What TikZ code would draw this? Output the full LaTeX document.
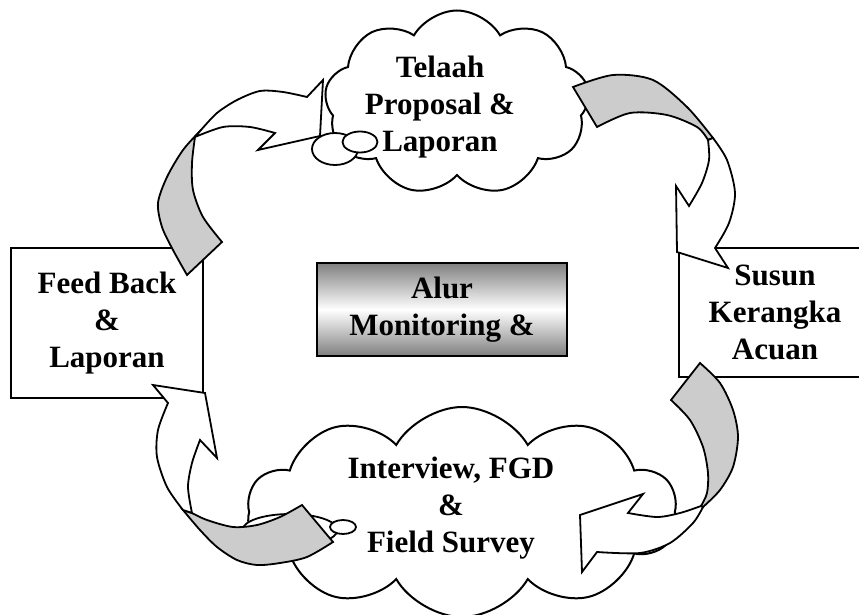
\documentclass[tikz,border=0pt]{standalone}
\usepackage{fontspec}
\setmainfont{Liberation Serif}
\usetikzlibrary{shapes.symbols, shapes.geometric}
\newcommand{\lblfont}{\bfseries\fontsize{31}{37}\selectfont}
\tikzset{%
	box/.style={draw, rectangle, line width=2pt, fill=white, inner sep=0mm,%
		align=center, font=\lblfont},
	puff/.style={draw, cloud, cloud puffs=9, cloud puff arc=120, line width=2pt,%
		fill=white, inner sep=0mm},
	txt/.style={align=center, font=\lblfont, inner sep=0mm},
	hub/.style={draw, rectangle, line width=2pt, top color=black!50, bottom color=black!50,%
		middle color=white, inner sep=0mm, align=center, font=\lblfont},
	bubble/.style={draw, ellipse, line width=1.8pt, fill=white, inner sep=0mm},
	front/.style={draw, line width=1.8pt, fill=white},
	back/.style={draw, line width=1.8pt, fill=black!20}
}
\begin{document}
\begin{tikzpicture}[x=1pt, y=-1pt]
	\useasboundingbox (0,0) rectangle (859,615);

	\node[box, minimum width=192pt, minimum height=150pt] (feed) at (107,323) {Feed Back\\\&\\Laporan};
	\node[box, minimum width=192pt, minimum height=129pt] (susun) at (775,312.5) {Susun\\Kerangka\\Acuan};
	\node[hub, minimum width=250pt, minimum height=93pt] (alur) at (442,309.5) {Alur\\Monitoring \&};

	\node[puff, minimum width=265pt, minimum height=185pt] (telaah) at (457,103) {};
	\node[txt] (telaah-txt) at (440,107) {Telaah\\Proposal \&\\Laporan};
	\node[puff, cloud puffs=10, minimum width=430pt, minimum height=210pt] (survey) at (462,512) {};
	\node[txt] (survey-txt) at (451,508) {Interview, FGD\\\&\\Field Survey};
	\node[bubble, minimum width=95pt, minimum height=32pt] (survey-b1) at (290,530) {};

	% feed back -> telaah
	\filldraw[back] plot[smooth] coordinates {(201,130) (183,150) (167,177) (158,203) (162,227) (173,250) (187,275)}
		-- plot[smooth] coordinates {(222,242) (203,217) (193,190) (192,163) (195,137)} -- cycle;
	\filldraw[front] plot[smooth] coordinates {(201,130) (217,113) (237,100) (260,91) (283,92) (307,97)}
		-- (323,80) -- (320,136) -- (258,150) -- (275,133)
		-- plot[smooth] coordinates {(275,133) (250,127) (223,127) (195,137)} -- cycle;

	% telaah -> susun
	\filldraw[back] plot[smooth] coordinates {(573,87) (613,75) (653,80) (687,107) (713,138)}
		-- plot[smooth] coordinates {(708,140) (697,127) (667,115) (630,113) (597,127)} -- cycle;
	\filldraw[front] plot[smooth] coordinates {(713,138) (727,160) (735,193) (729,223) (715,248)}
		-- (728,268) -- (677,252) -- (676,186) -- (689,206)
		-- plot[smooth] coordinates {(689,206) (702,183) (709,160) (708,140)} -- cycle;

	% susun -> survey
	\filldraw[back] plot[smooth] coordinates {(700,363) (720,383) (733,410) (738,437) (733,467) (720,490) (703,507)}
		-- plot[smooth] coordinates {(701,506) (707,493) (708,473) (703,447) (690,420) (671,400)} -- cycle;
	\filldraw[front] plot[smooth] coordinates {(703,507) (693,523) (670,543) (640,553) (597,552)}
		-- (582,572) -- (580,515) -- (643,494) -- (628,513)
		-- plot[smooth] coordinates {(628,513) (657,517) (680,513) (701,506)} -- cycle;

	% survey -> feed back
	\filldraw[back] plot[smooth] coordinates {(302,505) (280,517) (257,525) (233,527) (207,520) (192,513)}
		-- plot[smooth] coordinates {(183,510) (200,530) (217,547) (237,560) (257,565) (280,563) (307,557) (333,542)} -- cycle;
	\filldraw[front] plot[smooth] coordinates {(183,510) (167,487) (157,457) (158,430) (168,403)}
		-- (153,385) -- (205,393) -- (217,458) -- (200,440)
		-- plot[smooth] coordinates {(200,440) (192,463) (188,487) (192,513)} -- cycle;

	\node[bubble, minimum width=46pt, minimum height=32pt] (telaah-b1) at (335,149) {};
	\node[bubble, minimum width=35pt, minimum height=21pt] (telaah-b2) at (360,142) {};
	\node[bubble, minimum width=26pt, minimum height=14pt] (survey-b2) at (343,527) {};
\end{tikzpicture}
\end{document}
